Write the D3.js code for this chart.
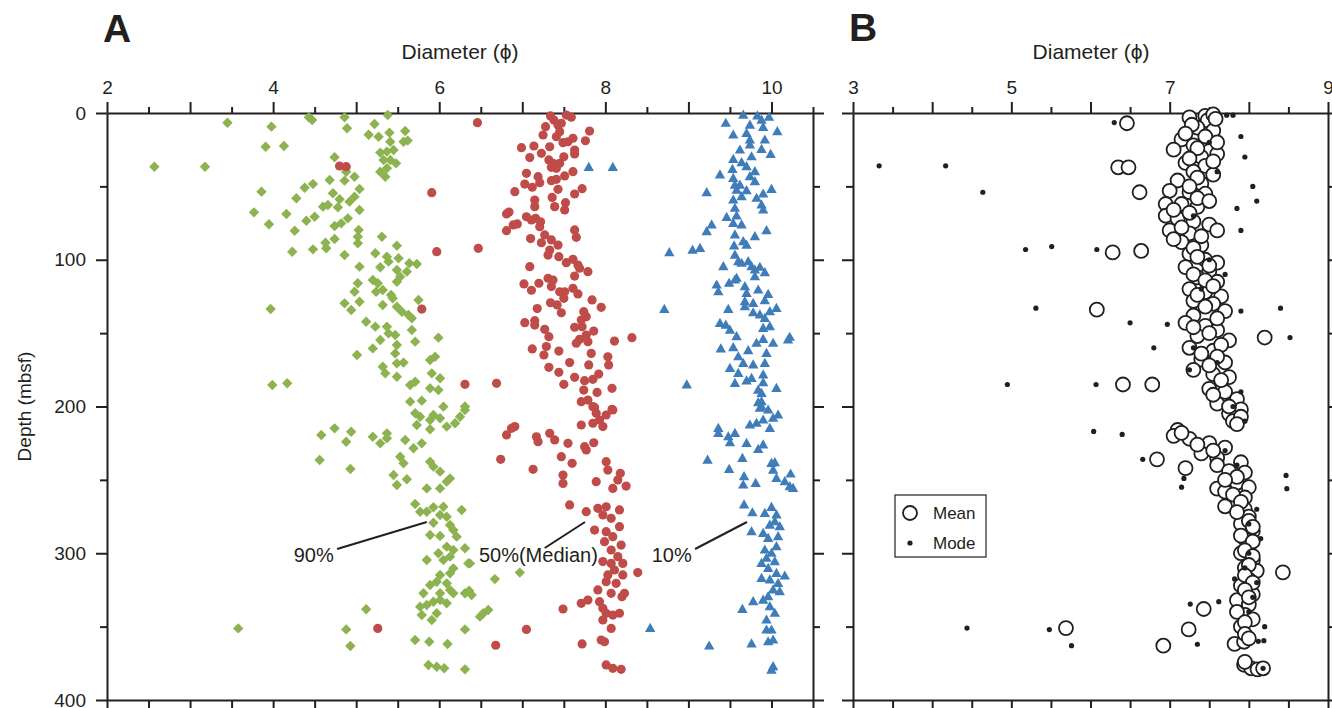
<!DOCTYPE html>
<html><head><meta charset="utf-8">
<script src="https://cdn.jsdelivr.net/npm/d3@7"></script>
<style>body{margin:0;background:#fff}svg{display:block}text{font-family:"Liberation Sans",Arial,Helvetica,sans-serif;fill:#231f20}</style>
</head><body><svg id="c" width="1332" height="708"></svg>
<script>
// ---------- DATA: [depth (mbsf), diameter (phi)] ----------
const p90 = [[6.6,3.45],[9.3,3.98],[2.9,4.43],[4.8,4.47],[2.9,4.86],[10.4,4.89],[7.5,5.22],[1.4,5.38],[14.8,5.15],[16.2,5.27],[13.4,5.40],[12.3,5.59],[19.6,5.57],[18.8,5.62],[19.6,5.41],[23,3.91],[22.5,4.13],[30.2,4.74],[36.6,2.57],[36.6,3.18],[27,5.29],[26.3,5.37],[25.2,5.45],[32,5.33],[32,5.41],[34.3,5.48],[37.7,5.37],[40,5.29],[43.4,5.35],
[40,4.88],[43.4,4.98],[45.7,4.68],[46.1,4.86],[51.8,5.04],[57,4.98],[60.4,4.92],[58.8,4.80],[54.7,4.72],[48.4,4.48],[50.9,4.38],[53.6,3.86],[58.1,4.28],[63.8,4.60],[62.7,4.66],[64.3,4.78],[66.1,5.04],[67.7,3.77],[68.8,4.16],[75.8,3.95],[70.7,4.50],[73.4,4.40],[80.2,4.26],[77,4.74],[75.2,4.82],[71.8,4.90],[79.7,5.03],[84.3,5.02],[88.8,5.02],[84.3,5.31],[90.4,5.49],[94.5,4.23],[92.9,4.48],[88.4,4.63],[92.2,4.64],[85.9,4.74],[96.8,4.86],
[95.6,5.23],[97.9,5.37],[101.3,5.39],[99,5.51],[102.4,5.64],[102.9,5.73],[108.1,5.61],[107,5.49],[111.5,5.53],[115,5.49],[104.7,5.04],[105.1,5.29],[116,5.02],[121.8,4.98],[113.8,5.20],[116,5.26],[121.8,5.24],[120.6,5.32],[124,5.42],[126.3,5.44],[127.4,5.75],[129.7,4.86],[134.2,4.94],[128.6,5.04],[130.8,5.32],[132,5.49],[135.4,5.55],[137.6,5.63],[139.9,5.67],[133.6,3.97],[142.2,5.12],[145.6,5.23],[145.6,5.37],[150.2,5.39],[151.3,5.47],[154.7,5.29],[160.4,5.20],[158.1,5.49],[163.8,5.47],[164.9,5.01],[147.9,5.67],[155.8,5.71],[153.1,5.99],[172.9,5.32],[170.6,5.49],[170.1,5.57],[177.4,5.35],[179.7,5.49],[185.3,5.65],[183.1,5.71],[168.3,5.89],[166.1,5.95],[177.4,5.91],[180.8,6.01],[187.6,5.89],[188.8,5.99],[196.7,5.65],[196,5.79],[200.1,6.05],[185.3,3.99],[184.2,4.17],[200,6.31],
[202.4,6.31],[204.6,5.71],[207,5.77],[205.8,5.93],[208,6.01],[209.2,5.89],[211.4,6.19],[207,6.25],[213.7,6.09],[212.6,5.73],[215.5,5.89],[219.4,4.58],[214.9,4.74],[217.2,4.94],[224,4.88],[220.6,5.20],[225.1,5.29],[218.3,5.37],[221.7,5.37],[222.8,5.59],[228.5,5.69],[225.1,5.79],[234.2,5.53],[238.7,5.57],[237.6,5.89],[241,5.93],[244.4,6.01],[249,6.13],[251.2,6.09],[255.8,6.01],[255.8,5.85],[246.7,5.45],[253.5,5.49],[249.6,5.61],[236.5,4.56],[242.6,4.93],
[266.4,5.71],[271.7,5.77],[271.7,5.85],[268.7,5.93],[268.3,6.05],[273.9,6.01],[275.1,6.09],[270.5,6.27],[279.2,5.93],[280.8,6.13],[284.2,6.17],[288.7,6.21],[287.6,5.89],[288.2,6.01],[295.5,6.09],[297.8,6.17],[296.6,6.31],[300,5.99],[304.6,5.85],[304.6,6.05],[302.3,6.13],[306.9,6.35],[314.8,6.01],[313.7,6.13],[310.3,6.17],[321.6,5.89],[319.4,5.97],[320.5,6.09],[327.3,6.01],[325,6.13],[327.3,5.81],[336.4,5.77],[335.3,5.85],[333,5.93],[331.9,6.01],[334.1,6.09],[327.3,6.17],[327.3,6.31],[342.1,5.79],[345.5,5.91],[340.9,5.97],[338.2,5.12],[351.2,3.58],[351.9,4.88],[363.2,4.93],[359.1,5.71],[360.3,5.88],[361.8,6.10],[351.9,6.31],[376.1,5.87],[377.3,5.97],[378.4,6.06],[379.1,6.31],
[306.9,6.37],[317.6,6.67],[313.2,6.97],[328.5,6.39],[343.2,6.49],[340.9,6.53],[338.7,6.59],[325.5,6.36]];

const p50 = [[6.6,6.46],[2,7.34],[4.8,7.38],[1.4,7.53],[2.9,7.59],[9.3,7.28],[8.2,7.43],[7,7.47],[12.3,7.81],[15,7.25],[16.2,7.41],[12.7,7.45],[23.6,6.99],[22.5,7.14],[23,7.33],[27.5,7.23],[30.4,7.09],[20.2,7.49],[19.6,7.55],[17.2,7.61],[18.9,7.76],[25.2,7.63],[27.9,7.63],[32,7.32],[34.3,7.37],[34.3,7.45],[37.7,7.41],[37,7.35],[29.8,7.50],[41.1,7.05],[43.4,7.19],[47.5,7.21],[48.4,7.03],[50.6,7.12],[46.1,7.35],[45.2,7.41],[42.9,7.51],[40,7.61],[51.6,7.72],[55.2,7.63],[52,7.43],[53.6,6.91],[59.3,7.15],[63.8,7.15],[57.5,7.36],[63.8,7.39],[61.1,7.52],[66.1,7.51],[68.8,6.81],[67.5,6.84],[70.7,7.05],[72.9,7.11],[71.8,7.16],[74.1,7.22],[77.5,7.21],[76.3,6.89],[75.6,6.94],[80.2,6.81],[79.7,7.63],[84.7,7.65],[83.1,7.27],[85.6,7.10],[88.4,7.23],[86.5,7.35],[90,7.43],[93.4,7.33],[96.8,7.31],[97.9,7.44],[102,7.53],[99.7,7.61],[103.6,7.67],[105.8,7.69],[111.1,7.63],[108.1,7.79],[104.7,7.09],[112.6,7.31],[113.8,7.37],[116,7.20],[116.5,7.02],[120.8,7.11],[118.3,7.35],[121.8,7.45],[121.8,7.51],[126.3,7.50],[123.3,7.67],[119.5,7.61],[127.4,7.84],[132.4,7.95],[129.3,7.34],[130.8,7.42],[136.1,7.47],[133.3,7.18],[135.4,7.74],[138.8,7.77],[141.1,7.71],[142.9,7.03],[141.5,7.15],[144.5,7.15],[147.4,7.27],[152.4,7.32],[146,7.63],[145.6,7.72],[148.6,7.86],[151.3,7.77],[154.2,7.69],[156.9,7.65],[155.8,7.79],[155.4,8.11],[153.1,8.32],[159.1,7.29],[160.8,7.12],[164.9,7.26],[162.2,7.44],[163.8,7.83],[166.1,8.03],[171.7,8.04],[170.1,7.57],[171.7,7.80],[173.3,7.32],[176.7,7.44],[180.1,7.63],[182.4,7.75],[181.5,7.85],[177.9,7.92],[184.9,7.50],[188.8,7.74],[190.4,7.90],[187.6,8.08],[196.7,7.71],[195.6,7.79],[200.6,7.87],[201.9,8.08],[184.2,6.69],[184.9,6.31],[92.2,6.47],[54.3,5.91],[94.5,5.97],[133.6,5.79],[36.1,4.80],[36.6,4.88],
[200.1,7.85],[204.6,7.89],[205.8,8.01],[202.4,8.09],[209.2,7.93],[211.4,7.85],[213.7,7.97],[212.6,7.71],[214.9,6.87],[219.4,6.81],[213.7,6.91],[220.6,7.17],[224,7.19],[218.3,7.33],[222.8,7.39],[225.1,7.55],[227.4,7.75],[229.6,7.77],[224.7,7.86],[234.2,7.47],[238.7,7.60],[236,6.74],[242.8,7.13],[237.6,8.01],[243.3,8.03],[246.7,7.49],[252.4,7.49],[251.2,7.89],[245.5,8.18],[250.1,8.15],[254.2,8.25],[255.8,8.09],[267.1,7.57],[271.7,7.77],[269.4,7.91],[268.3,8.01],[270.5,8.17],[273.9,7.97],[276.2,8.07],[281.9,8.17],[284.2,7.87],[285.3,8.01],[288.7,8.09],[292.1,7.99],[294.4,8.19],[297.8,8.07],[302.3,8.15],[305.7,7.97],[306.9,8.07],[306.9,8.21],[311.4,8.11],[314.8,8.03],[314.8,8.21],[313.2,8.39],[320.5,8.13],[319.4,8.01],[325,7.91],[327.3,8.07],[327.3,8.23],[329.6,8.20],[331.9,7.79],[334.1,7.71],[338,7.49],[333,7.93],[337.5,7.97],[340.9,8.01],[342.1,8.09],[340.9,8.17],[345.5,7.97],[351.2,8.07],[351.9,7.05],[362.7,6.68],[361.8,7.72],[359.1,7.95],[360.3,7.99],[376.1,8.01],[378.4,8.09],[379.1,8.19],[351.2,5.26]];

const p10 = [[1.4,9.66],[2,9.83],[2.9,9.97],[4.8,9.88],[7,9.45],[8.2,9.74],[9.8,9.90],[12.7,10.07],[15,9.54],[13.9,9.70],[18.4,9.74],[18.4,9.92],[21.8,9.74],[24.8,9.88],[25.2,9.62],[28.2,9.99],[29.8,9.76],[31.6,9.54],[33.8,9.64],[36.6,9.70],[38.4,9.53],[42.2,9.38],[40,9.80],[43.4,9.74],[46.8,9.80],[44.5,9.54],[49.1,9.56],[49.1,9.62],[52.5,9.58],[52.9,9.70],[52,10.00],[57,9.64],[58.1,9.82],[55.2,9.90],[59.3,9.54],[62.7,9.88],[66.1,9.90],[64.9,9.56],[71.1,9.46],[70.2,9.58],[75.2,9.54],[76.3,9.64],[76.3,9.28],[80.9,9.22],[80.2,9.94],[84.3,9.80],[83.1,9.56],[90.6,9.55],[87.7,9.66],[90,9.70],[93.4,9.05],[92.2,9.14],[95.2,8.77],[96.8,9.56],[101.3,9.60],[102.4,9.64],[101.3,9.72],[104.7,9.76],[107,9.80],[104.7,9.42],[105.1,9.86],[108.8,9.92],[111.5,9.80],[117.2,9.34],[116,9.49],[113.8,9.56],[112.6,9.58],[121.8,9.36],[118.3,9.68],[122.9,9.70],[120.6,9.84],[123.6,9.96],[127.9,9.92],[128.6,9.68],[132,9.68],[129.7,9.78],[133.1,10.06],[133.8,9.48],[136.1,9.78],[137.6,9.86],[139.9,9.92],[135.4,9.98],[143.3,9.38],[144.5,9.45],[147.9,9.50],[146.7,9.90],[145.6,9.98],[152.4,9.58],[156.9,9.82],[154.2,9.90],[156.9,10.02],[154.7,10.20],[152.8,10.22],[160.8,9.39],[159.9,9.54],[166.1,9.60],[161.9,9.72],[163.8,9.94],[170.6,9.66],[170.6,9.92],[171.7,9.78],[174,9.50],[177.4,9.60],[180.8,9.76],[182.6,9.70],[178.5,9.90],[183.8,9.90],[184.2,9.56],[185.3,8.98],[187.6,10.06],[188.8,9.84],[191,9.88],[197.4,9.84],[196.7,9.88],[201.2,9.86],[37,7.80],[37,8.09],[133.8,8.71],[54.3,9.22],
[200.1,9.88],[202.4,9.96],[208,10.02],[205.8,10.08],[209.2,9.90],[214.9,9.98],[211.4,9.82],[212.6,9.74],[214.9,9.36],[218.3,9.36],[220.6,9.48],[218.3,9.56],[224.7,9.50],[225.1,9.70],[226.2,9.90],[229.2,9.84],[236.5,9.23],[235.3,9.65],[242.8,9.49],[247.8,9.67],[253.5,9.66],[252.4,9.81],[238.7,10.00],[238.3,10.04],[243.3,10.02],[249,10.06],[251.2,10.16],[246,10.23],[255.8,10.26],[254.6,10.22],[267.1,9.67],[272.4,9.77],[285.3,9.76],[272.8,9.92],[268.7,10.00],[273.9,10.06],[281.9,10.10],[278.5,10.04],[280.8,9.98],[286.5,9.90],[289.9,9.96],[288.7,10.08],[295.5,10.06],[297.8,9.92],[300,10.00],[303.4,9.94],[305.7,10.04],[306.9,9.88],[310.3,9.96],[315.5,10.16],[313.7,10.06],[317.1,9.88],[318.2,9.98],[320.5,10.08],[325,10.02],[326.2,10.10],[329.6,9.96],[331.9,9.90],[333,9.78],[338.2,9.65],[336.4,9.98],[340.9,10.04],[345.5,9.94],[352.3,10.00],[352.3,9.94],[351.2,8.54],[363.2,9.25],[361.8,9.76],[360.3,9.96],[359.1,10.02],[377.3,10.02],[379.6,10.00]];

const meanB = [[7,6.46],[3,7.25],[2,7.45],[5,7.48],[10,7.35],[12,7.55],[18,7.15],[22,7.3],[25,7.05],[26,7.5],[30,7.4],[28,7.6],[34,7.2],[37,6.35],[37,6.48],[36,7.45],[40,7.3],[42,7.55],[46,7.1],[48,7.4],[54,6.62],[53,7.0],[54,7.25],[55,7.45],[62,6.95],[62,7.15],[64,7.35],[70,6.95],[72,7.1],[74,7.3],[76,7.5],[80,7.0],[82,7.25],[80,7.6],[88,7.15],[90,7.4],[94,6.64],[95,6.28],[96,7.25],[100,7.45],[102,7.6],[105,7.2],[108,7.5],[112,7.35],[115,7.6],[120,7.25],[122,7.45],[125,7.65],[128,7.3],[130,7.55],[134,6.08],[138,7.3],[135,7.7],[143,7.2],[145,7.45],[148,7.6],[153,8.2],[152,7.35],[155,7.75],[160,7.25],[162,7.55],[168,7.4],[170,7.7],[175,7.3],[178,7.55],[180,7.75],[185,6.41],[185,6.78],[188,7.5],[190,7.7],[195,7.85],[198,7.6],[202,7.9],[205,7.75],[210,7.8],[216,7.1],[220,7.05],[222,7.25],[225,7.5],[228,7.7],[232,7.4],[235,7.6],[236,6.84],[242,7.2],[240,7.6],[238,7.9],[245,7.95],[252,7.85],[256,7.6],[258,7.7],[255,8.0],[262,7.95],[268,7.7],[270,7.95],[275,8.0],[280,7.9],[285,8.05],[290,7.95],[295,8.0],[300,7.9],[305,8.05],[310,7.95],[312,8.1],[313,8.43],[318,8.0],[322,7.9],[328,8.05],[332,7.85],[335,8.0],[338,7.43],[342,7.95],[345,8.05],[350,7.9],[351.9,7.24],[351,5.69],[363,6.92],[361.8,7.82],[360.3,7.94],[376,7.94],[378.4,8.03],[379.1,8.11],[378.4,8.18],
[1,7.55],[4,7.58],[8,7.28],[14,7.2],[16,7.45],[20,7.6],[24,7.35],[31,7.25],[33,7.55],[44,7.35],[50,7.25],[58,7.35],[60,7.5],[66,7.05],[68,7.25],[78,7.15],[84,7.4],[86,7.05],[92,7.3],[98,7.35],[104,7.5],[110,7.3],[114,7.45],[118,7.55],[124,7.35],[132,7.45],[140,7.6],[146,7.3],[150,7.5],[158,7.65],[164,7.4],[166,7.6],[172,7.5],[182,7.65],[192,7.55],[200,7.75],[207,7.9],[212,7.85],[218,7.15],[226,7.35],[230,7.55],[244,7.75],[248,7.85],[250,7.7],[260,7.8],[265,7.9],[272,7.85],[278,8.0],[282,8.05],[288,7.9],[292,8.05],[298,7.95],[302,8.05],[308,8.0],[315,7.95],[320,8.05],[325,7.95],[330,8.0],[340,7.85],[347,7.95],[355,7.95],[358,8.0],[374,7.95]];

const modeB = [[6.5,6.30],[1.5,7.72],[1.5,7.80],[36,3.33],[36,4.17],[54,4.64],[93,5.18],[91,5.51],[133,5.31],[93,6.08],[16,7.9],[50,8.05],[175,7.25],[185,4.95],[185,6.07],[217,6.04],[219,6.40],[133,8.40],[153,8.52],[247,8.47],[256,8.48],[255,7.15],[351,4.44],[352,5.48],[363,5.76],[160,6.8],[143,6.50],[144,6.97],[236,6.66],[249,7.18],[20,7.5],[40,7.6],[70,7.3],[100,7.5],[120,7.4],[170,7.6],[200,7.8],[230,7.7],[280,8.0],[300,8.0],[330,8.05],[378.4,8.18],
[30,7.95],[60,8.1],[65,7.85],[80,7.9],[110,7.7],[135,7.9],[160,7.3],[190,7.9],[210,7.95],[240,7.85],[270,8.1],[290,8.15],[310,7.95],[320,8.1],[340,8.0],[350,8.2],[317.5,7.82],[333,7.62],[334.6,7.26],[362,7.35],[360,8.12],[359.6,8.19]];

const ticksA = [2,4,6,8,10];
const ticksB = [3,5,7,9];
const depthTicks = [0,100,200,300,400];
const labels = [
  {text:"90%", x:4.73, y:306, x1:4.77, y1:297.1, x2:5.85, y2:278.7},
  {text:"50%(Median)", x:7.91, y:306, x1:7.27, y1:296.4, x2:7.755, y2:278.7},
  {text:"10%", x:9.04, y:306, x1:9.08, y1:297.1, x2:9.705, y2:278.7}
];

// ---------- CHART ----------
const svg = d3.select("#c");
const ink = "#231f20";
const y = d3.scaleLinear().domain([0,400]).range([113,700]);
const xA = d3.scaleLinear().domain([2,10.5]).range([107,813]);
const xB = d3.scaleLinear().domain([3,9]).range([853,1328]);

function halves(a,b){const r=[];for(let v=a;v<=b+1e-9;v+=0.5)r.push(v);return r;}
function ints(a,b){const r=[];for(let v=a;v<=b;v++)r.push(v);return r;}

function frame(x, labelTicks, showDepthLabels){
  const [x0,x1] = x.domain();
  const style = g => { g.selectAll("path,line").attr("stroke",ink).attr("stroke-width",2);
    g.selectAll("text").attr("fill",ink).style("font-size","19px").style("font-family",'"Liberation Sans",Arial,sans-serif'); };
  svg.append("g").attr("transform",`translate(0,${y(0)})`)
    .call(d3.axisTop(x).tickValues(halves(x0,x1).filter(v=>v%1!==0)).tickSize(6).tickFormat("").tickSizeOuter(0))
    .call(g=>g.select(".domain").remove()).call(style);
  svg.append("g").attr("transform",`translate(0,${y(0)})`)
    .call(d3.axisTop(x).tickValues(ints(Math.ceil(x0),Math.floor(x1))).tickSize(11).tickPadding(8).tickSizeOuter(0)
      .tickFormat(v=>labelTicks.includes(v)?String(v):""))
    .call(style);
  svg.append("g").attr("transform",`translate(0,${y(400)})`)
    .call(d3.axisBottom(x).tickValues(halves(x0,x1)).tickSize(8).tickFormat("").tickSizeOuter(0)).call(style);
  svg.append("g").attr("transform",`translate(${x(x0)},0)`)
    .call(d3.axisLeft(y).tickValues([50,150,250,350]).tickSize(7).tickFormat("").tickSizeOuter(0))
    .call(g=>g.select(".domain").remove()).call(style);
  svg.append("g").attr("transform",`translate(${x(x0)},0)`)
    .call(d3.axisLeft(y).tickValues(depthTicks).tickSize(11).tickPadding(10).tickSizeOuter(0)
      .tickFormat(v=>showDepthLabels?String(v):"")).call(style);
  svg.append("g").attr("transform",`translate(${x(x1)},0)`)
    .call(d3.axisRight(y).tickValues([50,150,250,350]).tickSize(7).tickFormat("").tickSizeOuter(0))
    .call(g=>g.select(".domain").remove()).call(style);
  svg.append("g").attr("transform",`translate(${x(x1)},0)`)
    .call(d3.axisRight(y).tickValues(depthTicks).tickSize(11).tickFormat("").tickSizeOuter(0)).call(style);
}
frame(xA, ticksA, true);
frame(xB, ticksB, false);

svg.append("text").attr("x",103).attr("y",42).text("A").style("font-size","39px").style("font-weight","bold");
svg.append("text").attr("x",849).attr("y",41).text("B").style("font-size","39px").style("font-weight","bold");
svg.append("text").attr("x",460).attr("y",59).attr("text-anchor","middle").style("font-size","21px").text("Diameter (ϕ)");
svg.append("text").attr("x",1091).attr("y",59).attr("text-anchor","middle").style("font-size","21px").text("Diameter (ϕ)");
svg.append("text").attr("transform",`translate(31,${y(200)}) rotate(-90)`).attr("text-anchor","middle").style("font-size","19px").text("Depth (mbsf)");

const green="#8db350", red="#bf4c49", blue="#3f7dba";
svg.append("g").selectAll("path").data(p90).join("path")
  .attr("d","M0,-5.2L5.2,0L0,5.2L-5.2,0Z").attr("fill",green)
  .attr("transform",d=>`translate(${xA(d[1])},${y(d[0])})`);
svg.append("g").selectAll("circle").data(p50).join("circle")
  .attr("cx",d=>xA(d[1])).attr("cy",d=>y(d[0])).attr("r",4.6).attr("fill",red);
svg.append("g").selectAll("path").data(p10).join("path")
  .attr("d","M0,-5.6L5.2,3.6L-5.2,3.6Z").attr("fill",blue)
  .attr("transform",d=>`translate(${xA(d[1])},${y(d[0])})`);

labels.forEach(l=>{
  svg.append("line").attr("x1",xA(l.x1)).attr("y1",y(l.y1)).attr("x2",xA(l.x2)).attr("y2",y(l.y2))
    .attr("stroke",ink).attr("stroke-width",2);
  svg.append("text").attr("x",xA(l.x)).attr("y",y(l.y)).attr("text-anchor","end").style("font-size","20px").text(l.text);
});

svg.append("g").selectAll("circle").data(meanB).join("circle")
  .attr("cx",d=>xB(d[1])).attr("cy",d=>y(d[0])).attr("r",7).attr("fill","#fff").attr("stroke",ink).attr("stroke-width",1.8);
svg.append("g").selectAll("circle").data(modeB).join("circle")
  .attr("cx",d=>xB(d[1])).attr("cy",d=>y(d[0])).attr("r",2.6).attr("fill",ink);

const lg = svg.append("g").attr("transform","translate(895,495)");
lg.append("rect").attr("width",91).attr("height",62).attr("fill","#fff").attr("stroke",ink).attr("stroke-width",1.2);
lg.append("circle").attr("cx",15).attr("cy",18).attr("r",7).attr("fill","#fff").attr("stroke",ink).attr("stroke-width",1.8);
lg.append("circle").attr("cx",15).attr("cy",48).attr("r",2.6).attr("fill",ink);
lg.append("text").attr("x",38).attr("y",24).style("font-size","17px").text("Mean");
lg.append("text").attr("x",38).attr("y",54).style("font-size","17px").text("Mode");
</script></body></html>
